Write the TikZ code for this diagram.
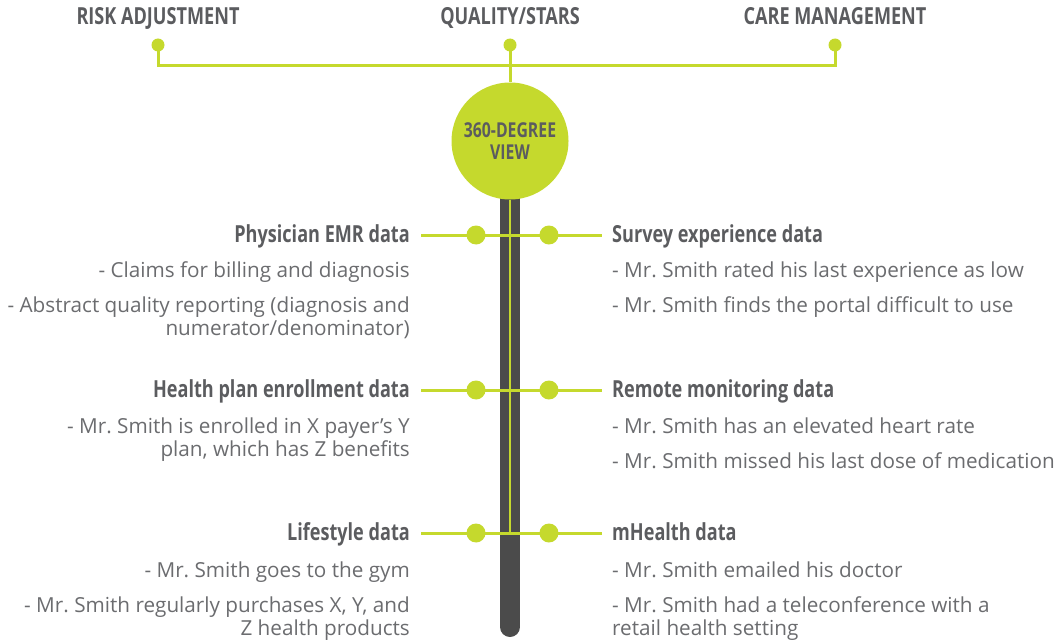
\documentclass[tikz,border=0pt]{standalone}
\usepackage{fontspec}
\setmainfont{Open Sans}
\newfontfamily\headfont{Open Sans}[FakeStretch=0.77]
\frenchspacing
\usetikzlibrary{positioning, backgrounds}
\definecolor{hubgreen}{HTML}{C5D92D}
\definecolor{headgray}{HTML}{5B5C5F}
\definecolor{bodygray}{HTML}{6B6C6F}
\definecolor{polegray}{HTML}{4B4B4B}
\tikzset{
  head/.style={inner sep=0pt, text height=18pt, text depth=4pt, text=headgray,
               font=\headfont\bfseries\fontsize{23.5}{26}\selectfont},
  item/.style={inner sep=0pt, text=bodygray,
               font=\fontsize{20.7}{23}\selectfont},
  link/.style={hubgreen, line width=3pt},
  dot/.style={circle, fill=hubgreen, inner sep=0pt, minimum size=19pt},
  pin/.style={circle, fill=hubgreen, inner sep=0pt, minimum size=13pt},
  hub/.style={circle, fill=hubgreen, inner sep=0pt, minimum size=117pt,
              align=center, text=headgray,
              font=\headfont\bfseries\fontsize{20.5}{22}\selectfont},
  pole/.style={polegray, line width=20pt, line cap=round},
}

\begin{document}
\begin{tikzpicture}[x=1pt, y=-1pt]
  \useasboundingbox (0,0) rectangle (1055,642);

  % the three programs on top
  \node[head, anchor=base] (risk) at (158,25) {RISK ADJUSTMENT};
  \node[head, anchor=base] (qual) at (510,25) {QUALITY/STARS};
  \node[head, anchor=base] (care) at (835,25) {CARE MANAGEMENT};
  \node[pin] (riskpin) at (158,45) {};
  \node[pin] (qualpin) at (510,45) {};
  \node[pin] (carepin) at (835,45) {};
  \coordinate (split) at (510,66);
  \draw[link] (riskpin.center) |- (split) -| (carepin.center);

  % hub and pole
  \node[hub] (hub) at (510,141) {360-DEGREE\\VIEW};
  \draw[link] (qualpin.center) -- (hub.north);
  \coordinate (base) at (510,627);
  \begin{scope}[on background layer]
    \draw[pole] (hub.center) -- (base);
  \end{scope}

  % first row (multi-line items sit on their last line)
  \node[head, anchor=base east] (emr) at (410,242) {Physician EMR data};
  \node[head, anchor=base west] (survey) at (612,242) {Survey experience data};
  \node[item, anchor=base east] (emr1) at ([yshift=-35pt]emr.base east)
    {- Claims for billing and diagnosis};
  \node[item, anchor=base east, align=right] (emr2) at ([yshift=-93pt]emr.base east)
    {- Abstract quality reporting (diagnosis and\\numerator/denominator)};
  \node[item, anchor=base west] (survey1) at ([yshift=-35pt]survey.base west)
    {- Mr. Smith rated his last experience as low};
  \node[item, anchor=base west] (survey2) at ([yshift=-70pt]survey.base west)
    {- Mr. Smith finds the portal difficult to use};
  \draw[link] ([xshift=11pt]emr.east)
    -- node[dot, pos=.304] (emrdot) {} node[dot, pos=.707] (surveydot) {}
    ([xshift=-10pt]survey.west);

  % second row
  \node[head, anchor=base east] (plan) at (410,397) {Health plan enrollment data};
  \node[head, anchor=base west] (remote) at (612,397) {Remote monitoring data};
  \node[item, anchor=base east, align=right] (plan1) at ([yshift=-59pt]plan.base east)
    {- Mr. Smith is enrolled in X payer’s Y\\plan, which has Z benefits};
  \node[item, anchor=base west] (remote1) at ([yshift=-36pt]remote.base west)
    {- Mr. Smith has an elevated heart rate};
  \node[item, anchor=base west] (remote2) at ([yshift=-71pt]remote.base west)
    {- Mr. Smith missed his last dose of medication};
  \draw[link] ([xshift=11pt]plan.east)
    -- node[dot, pos=.304] (plandot) {} node[dot, pos=.707] (remotedot) {}
    ([xshift=-10pt]remote.west);

  % third row
  \node[head, anchor=base east] (life) at (410,540) {Lifestyle data};
  \node[head, anchor=base west] (mhealth) at (612,540) {mHealth data};
  \node[item, anchor=base east] (life1) at ([yshift=-37pt]life.base east)
    {- Mr. Smith goes to the gym};
  \node[item, anchor=base east, align=right] (life2) at ([yshift=-95pt]life.base east)
    {- Mr. Smith regularly purchases X, Y, and\\Z health products};
  \node[item, anchor=base west] (mhealth1) at ([yshift=-37pt]mhealth.base west)
    {- Mr. Smith emailed his doctor};
  \node[item, anchor=base west, align=left] (mhealth2) at ([yshift=-95pt]mhealth.base west)
    {- Mr. Smith had a teleconference with a\\retail health setting};
  \draw[link] ([xshift=11pt]life.east)
    -- node[dot, pos=.304] (lifedot) {} node[dot, pos=.707] (mhealthdot) {}
    ([xshift=-10pt]mhealth.west);

  % thin line running down the pole
  \draw[hubgreen, line width=2pt] (hub.south) -- (hub.south |- life.east);
\end{tikzpicture}
\end{document}
